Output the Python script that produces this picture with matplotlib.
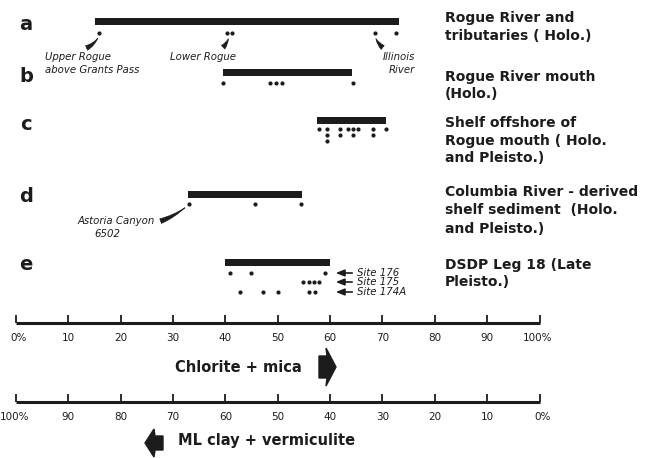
import matplotlib
matplotlib.use('Agg')
import matplotlib.pyplot as plt
from matplotlib.patches import Polygon

# percent chlorite + mica ranges for each sample group
rows = ['a', 'b', 'c', 'd', 'e']
bar_start = [15.1, 39.6, 57.5, 32.8, 40.0]
bar_end = [73.1, 64.2, 70.6, 54.7, 59.9]

descriptions = [
    ['Rogue River and', 'tributaries ( Holo.)'],
    ['Rogue River mouth', '(Holo.)'],
    ['Shelf offshore of', 'Rogue mouth ( Holo.', 'and Pleisto.)'],
    ['Columbia River - derived', 'shelf sediment  (Holo.', 'and Pleisto.)'],
    ['DSDP Leg 18 (Late', 'Pleisto.)'],
]

# individual samples
a_dots = [15.9, 40.3, 41.3, 68.5, 72.5]
b_dots = [39.6, 48.5, 49.7, 50.9, 64.4]
c_dots_1 = [57.9, 59.5, 61.8, 63.4, 64.4, 65.4, 68.1, 70.6]
c_dots_2 = [59.5, 61.8, 64.4, 68.1]
c_dots_3 = [59.5]
d_dots = [33.0, 45.6, 54.5]
site176 = [40.9, 44.9, 59.0]
site175 = [54.9, 55.9, 56.9, 57.9]
site174a = [42.8, 47.1, 50.0, 56.0, 57.1]

ticks = [0, 10, 20, 30, 40, 50, 60, 70, 80, 90, 100]
top_labels = ['0%', '10', '20', '30', '40', '50', '60', '70', '80', '90', '100%']
bottom_labels = ['100%', '90', '80', '70', '60', '50', '40', '30', '20', '10', '0%']

INK = '#1c1c1c'
X0, SCALE = 16.0, 5.235   # pixel of 0 % and pixels per percent


def px(x):
    return (x - X0) / SCALE


fig = plt.figure(figsize=(6.51, 4.58), dpi=100)
ax = fig.add_axes([0, 0, 1, 1])
ax.set_xlim(px(0), px(651))
ax.set_ylim(458, 0)
ax.axis('off')

bold = dict(fontweight='bold', color=INK, va='center', family='DejaVu Sans')

bar_y = [21, 72, 120, 194, 262]
letter_y = [25, 77, 125, 197, 265]
for r, s, e, y, ly in zip(rows, bar_start, bar_end, bar_y, letter_y):
    ax.barh(y, e - s, left=s, height=7, color=INK)
    ax.text(px(26), ly, r, fontsize=14, ha='center', **bold)

desc_y = [[18, 36], [77, 94], [123, 141, 158], [192, 210, 229], [265, 282]]
for lines, ys in zip(descriptions, desc_y):
    for line, y in zip(lines, ys):
        ax.text(px(445), y, line, fontsize=10, ha='left', **bold)

dot_rows = [(a_dots, 33), (b_dots, 83), (c_dots_1, 129), (c_dots_2, 135),
            (c_dots_3, 141), (d_dots, 204), (site176, 273), (site175, 282),
            (site174a, 292)]
for xs, y in dot_rows:
    ax.plot(xs, [y] * len(xs), 'o', ms=3, color=INK, mec='none')

# italic annotations with wedge leaders
itk = dict(fontsize=7.3, style='italic', color=INK, va='center',
           family='DejaVu Sans')
ax.text(px(45), 57, 'Upper Rogue', ha='left', **itk)
ax.text(px(45), 70, 'above Grants Pass', ha='left', **itk)
ax.text(px(170), 57, 'Lower Rogue', ha='left', **itk)
ax.text(px(415), 57, 'Illinois', ha='right', **itk)
ax.text(px(415), 70, 'River', ha='right', **itk)
ax.text(px(155), 221, 'Astoria Canyon', ha='right', **itk)
ax.text(px(107), 234, '6502', ha='center', **itk)

leaders = [((99, 36), (84, 49), 0.2), ((229, 36), (221, 49), 0.2),
           ((375, 36), (385, 49), -0.2), ((187, 206), (158, 222), 0.1)]
for (tx, ty), (sx, sy), rad in leaders:
    ax.annotate('', xy=(px(tx), ty), xytext=(px(sx), sy),
                arrowprops=dict(arrowstyle='wedge,tail_width=0.35',
                                color=INK, lw=0.5,
                                connectionstyle='arc3,rad=%s' % rad))

for name, y in [('Site 176', 273), ('Site 175', 282), ('Site 174A', 292)]:
    ax.annotate('', xy=(px(333), y), xytext=(px(355), y),
                arrowprops=dict(arrowstyle='-|>,head_length=0.5,head_width=0.2',
                                color=INK, lw=1.2))
    ax.text(px(357), y, name, ha='left', **itk)

# the two percentage scales
for line_y, labels in [(323, top_labels), (402, bottom_labels)]:
    ax.plot([0, 100], [line_y, line_y], color=INK, lw=2.2,
            solid_capstyle='butt')
    ax.vlines(ticks, line_y - 8, line_y, color=INK, lw=1.3)
    for t, lab in zip(ticks, labels):
        if lab.endswith('%'):
            ha, x = 'left', t - (len(lab) - 1) * 1.05
        else:
            ha, x = 'center', t
        ax.text(x, line_y + 15, lab, fontsize=7.5, ha=ha, va='center',
                color=INK, family='DejaVu Sans')

ax.text(px(175), 367, 'Chlorite + mica', fontsize=10.5, ha='left', **bold)
ax.text(px(178), 441, 'ML clay + vermiculite', fontsize=10.5, ha='left', **bold)

# block arrows
right_arrow = [(px(319), 356), (px(327), 356), (px(326), 348), (px(336), 367),
               (px(326), 386), (px(327), 378), (px(319), 378)]
left_arrow = [(px(163), 436), (px(155), 436), (px(154), 429), (px(145), 443),
              (px(154), 457), (px(155), 450), (px(163), 450)]
ax.add_patch(Polygon(right_arrow, closed=True, color=INK))
ax.add_patch(Polygon(left_arrow, closed=True, color=INK))

fig.savefig('out.png', dpi=100, facecolor='white')
